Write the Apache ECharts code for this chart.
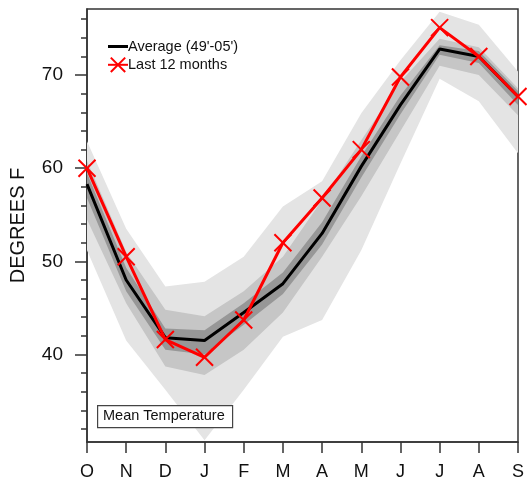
<!DOCTYPE html>
<html>
<head>
<meta charset="utf-8">
<script src="https://cdn.jsdelivr.net/npm/echarts@6/dist/echarts.min.js"></script>
<style>
  html, body { margin: 0; padding: 0; background: #fff; }
  #chart { width: 527px; height: 485px; }
</style>
</head>
<body>
<div id="chart"></div>
<script>
// Water-year months, October through September
const months = ['O', 'N', 'D', 'J', 'F', 'M', 'A', 'M', 'J', 'J', 'A', 'S'];

// Long-term monthly mean temperature (deg F)
const average = [58.3, 48.0, 41.8, 41.5, 44.5, 47.6, 53.0, 60.2, 66.8, 72.8, 72.0, 67.7];
// Most recent twelve months (deg F)
const last12 = [60.0, 50.5, 41.6, 39.7, 43.7, 52.0, 56.8, 62.0, 69.8, 75.1, 72.0, 67.7];

// Spread of the historical record: outer, middle and inner envelopes
const outerLow  = [51.2, 41.5, 36.2, 30.8, 36.2, 41.9, 43.7, 51.2, 60.5, 69.6, 67.2, 61.6];
const outerHigh = [62.9, 53.5, 47.3, 47.8, 50.5, 55.9, 58.6, 65.9, 71.6, 76.8, 75.4, 70.4];
const midLow    = [54.5, 45.5, 38.7, 37.8, 40.5, 44.5, 50.5, 57.0, 64.0, 71.0, 70.0, 65.7];
const midHigh   = [60.8, 51.0, 44.8, 44.1, 46.8, 50.5, 56.6, 63.0, 69.3, 73.9, 73.0, 68.6];
const innerLow  = [56.8, 46.8, 40.5, 40.0, 43.2, 46.5, 51.8, 59.0, 65.8, 72.2, 71.3, 66.8];
const innerHigh = [59.5, 49.3, 42.8, 42.6, 45.5, 48.8, 54.2, 61.3, 67.8, 73.2, 72.6, 68.3];

// Axis ticks
const majorTicks = [40, 50, 60, 70];
const minorTicks = [32, 34, 36, 38, 40, 42, 44, 46, 48, 50, 52, 54, 56, 58, 60, 62, 64, 66, 68, 70, 72, 74, 76];
const yMin = 30.6;
const yMax = 77.1;

const FONT = '"Liberation Sans", Arial, Helvetica, sans-serif';
const AXIS_COLOR = '#333';
const AVG_NAME = 'Average (49\'-05\')';
const LAST_NAME = 'Last 12 months';

// A band is a transparent base plus a filled stacked thickness
function band(id, low, high, color) {
  return [
    {
      type: 'line', stack: id, data: low, symbol: 'none', silent: true,
      lineStyle: { width: 0, opacity: 0 }, z: 1
    },
    {
      type: 'line', stack: id, data: high.map((h, i) => +(h - low[i]).toFixed(3)),
      symbol: 'none', silent: true,
      lineStyle: { width: 0, opacity: 0 },
      areaStyle: { color: color, opacity: 1 }, z: 1
    }
  ];
}

const chart = echarts.init(document.getElementById('chart'), null, { renderer: 'canvas' });

chart.setOption({
  animation: false,
  backgroundColor: '#fff',
  textStyle: { fontFamily: FONT },
  grid: {
    left: 87, right: 8, top: 9, bottom: 43,
    show: true, borderColor: AXIS_COLOR, borderWidth: 1.5, backgroundColor: 'transparent'
  },
  legend: {
    left: 102, top: 34, orient: 'vertical', itemGap: 2.6,
    itemWidth: 20, itemHeight: 18, symbolKeepAspect: true,
    data: [
      { name: AVG_NAME, icon: 'path://M0,0L20,0L20,3L0,3Z' },
      { name: LAST_NAME }
    ],
    textStyle: { fontFamily: FONT, fontSize: 14.5, color: '#111', padding: [0, 0, 0, -5] }
  },
  xAxis: {
    type: 'category', data: months, boundaryGap: false,
    axisLine: { lineStyle: { color: AXIS_COLOR, width: 1.5 } },
    axisTick: { show: true, inside: false, length: 11, alignWithLabel: true, interval: 0,
      lineStyle: { color: AXIS_COLOR, width: 1.5 } },
    axisLabel: { interval: 0, margin: 21, fontSize: 18, color: '#111', fontFamily: FONT },
    splitLine: { show: false }
  },
  yAxis: [
    {
      type: 'value', min: yMin, max: yMax,
      name: 'DEGREES F', nameLocation: 'middle', nameGap: 59, nameRotate: 90,
      nameTextStyle: { fontSize: 20, color: '#111', fontFamily: FONT },
      axisLine: { show: true, lineStyle: { color: AXIS_COLOR, width: 1.5 } },
      axisTick: { show: true, inside: false, length: 12, customValues: majorTicks,
        lineStyle: { color: AXIS_COLOR, width: 1.5 } },
      axisLabel: { customValues: majorTicks, margin: 24, fontSize: 19, color: '#111', fontFamily: FONT },
      splitLine: { show: false }
    },
    {
      type: 'value', min: yMin, max: yMax, position: 'left',
      axisLine: { show: false },
      axisTick: { show: true, inside: false, length: 6, customValues: minorTicks,
        lineStyle: { color: AXIS_COLOR, width: 1.5 } },
      axisLabel: { show: false },
      splitLine: { show: false }
    }
  ],
  graphic: [
    {
      type: 'rect', left: 97, top: 405, z: 100,
      shape: { width: 135, height: 22 },
      style: { fill: '#fff', stroke: '#444', lineWidth: 1.2 }
    },
    {
      type: 'text', left: 103, top: 408, z: 101,
      style: { text: 'Mean Temperature', font: '14.5px ' + FONT, fill: '#111' }
    }
  ],
  series: [
    ...band('outer', outerLow, outerHigh, '#e4e4e4'),
    ...band('mid', midLow, midHigh, '#c6c6c6'),
    ...band('inner', innerLow, innerHigh, '#979797'),
    {
      name: AVG_NAME, type: 'line', data: average,
      symbol: 'none', z: 5,
      lineStyle: { color: '#000', width: 3 },
      itemStyle: { color: '#000' }
    },
    {
      name: LAST_NAME, type: 'line', data: last12,
      symbol: 'path://M0,0L10,10M10,0L0,10', symbolSize: 17, z: 6,
      lineStyle: { color: '#ff0000', width: 3 },
      itemStyle: { color: '#ff0000', borderColor: '#ff0000', borderWidth: 2 }
    }
  ]
});
</script>
</body>
</html>
